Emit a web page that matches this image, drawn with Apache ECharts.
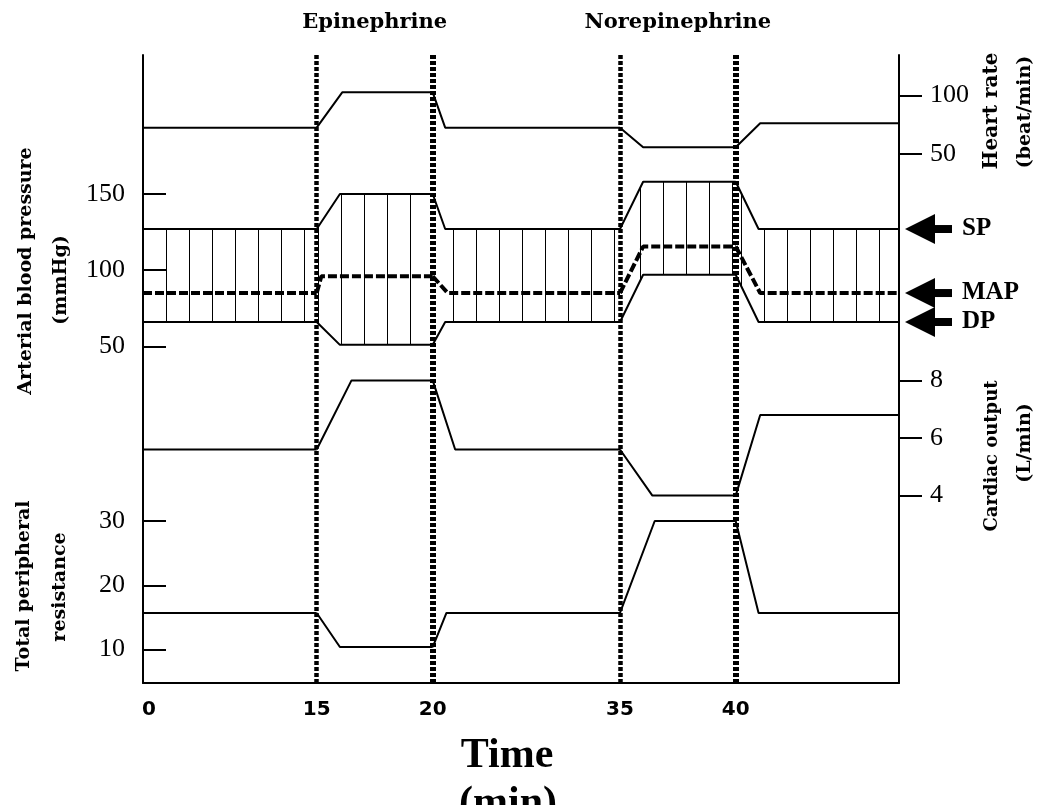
<!DOCTYPE html>
<html><head><meta charset="utf-8">
<script src="https://cdn.jsdelivr.net/npm/echarts@6/dist/echarts.min.js"></script>
<style>html,body{margin:0;padding:0;background:#fff}#c{width:1042px;height:805px}</style>
</head><body><div id="c"></div>
<script>
// ---------------- data ----------------
const knotTimes = [0, 15, 20, 35, 40, 50];            // time (min) breakpoints of the schematic axis
const xTickLabels = [0, 15, 20, 35, 40];
const heartRate     = [[0,72.5],[15,72.5],[16.1,102.7],[20,102.7],[21,72.5],[35,72.5],[36,55.7],[40,55.7],[41.5,76.2],[50,76.2]];
const systolic      = [[0,127],[15,127],[16,150],[20,150],[21,127],[35,127],[36,158],[40,158],[41.4,127],[50,127]];
const diastolic     = [[0,66],[15,66],[16,51],[20,51],[21,66],[35,66],[36,97],[40,97],[41.4,66],[50,66]];
const meanPressure  = [[0,85],[15,85],[15.2,96],[20,96],[21.2,85],[35,85],[36,115.5],[40,115.5],[41.5,85],[50,85]];
const cardiacOutput = [[0,5.6],[15,5.6],[16.5,8],[20,8],[21.8,5.6],[35,5.6],[36.4,4],[40,4],[41.5,6.8],[50,6.8]];
const resistance    = [[0,15.7],[15,15.7],[16,10.4],[20,10.4],[21.1,15.7],[35,15.7],[36.5,30],[40,30],[41.4,15.7],[50,15.7]];
const bpTicks  = [50, 100, 150];
const tprTicks = [10, 20, 30];
const hrTicks  = [50, 100];
const coTicks  = [4, 6, 8];
const drugs = [{name:'Epinephrine', from:15, to:20}, {name:'Norepinephrine', from:35, to:40}];
const pressureLabels = ['SP', 'MAP', 'DP'];

// ---------------- layout ----------------
const GRID = {left:143, right:143, top:55, bottom:122};
const W = 1042, H = 805;
const gx0 = GRID.left, gx1 = W - GRID.right;
const knotPx = [143, 316.7, 432.7, 620, 735.7, 899];   // screen x of each breakpoint
const axisRange = {bp:[-170.9, 241.2], tpr:[4.81, 102.47], hr:[-402.1, 134.6], co:[-2.507, 19.30]};
const dashWidths = [4.5, 6, 4.5, 6];
const hatchOffsets = [5, 19, 16, 19, 5];
const HATCH = 23;

const SERIF = 'Liberation Serif';
const TITLE_FONT = 'DejaVu Serif';

function segData(data, k) {
  const a = knotTimes[k], b = knotTimes[k+1];
  return data.filter(p => p[0] >= a && p[0] <= b);
}

function hatchPattern(off) {
  const cv = document.createElement('canvas');
  cv.width = HATCH; cv.height = 2;
  const ctx = cv.getContext('2d');
  ctx.fillStyle = '#000';
  ctx.fillRect(0, 0, 1, 2);
  return {image: cv, repeat: 'repeat', x: off, y: 0};
}

// x axes: one per segment so that the schematic (non-uniform) time axis is reproduced
const xAxes = [];
for (let k = 0; k < 5; k++) {
  const a = knotTimes[k], b = knotTimes[k+1];
  const s = (knotPx[k+1] - knotPx[k]) / (b - a);
  const min = a - (knotPx[k] - gx0) / s;
  const max = b + (gx1 - knotPx[k+1]) / s;
  xAxes.push({
    type: 'value', gridIndex: 0, position: 'bottom', min, max,
    axisLine: {show: k === 0, onZero: false, lineStyle: {color: '#000', width: 2}},
    axisTick: {show: false}, splitLine: {show: false},
    axisLabel: {
      customValues: [xTickLabels[k]], color: '#000', fontFamily: 'DejaVu Sans', fontSize: 20, fontWeight: 'bold',
      margin: 17, align: k === 0 ? 'left' : 'center', padding: k === 0 ? [0,0,0,-1] : 0
    }
  });
}

function yAxis(pos, range, ticks, showLine, inside, margin) {
  return {
    type: 'value', position: pos, min: range[0], max: range[1], gridIndex: 0,
    axisLine: {show: showLine, onZero: false, lineStyle: {color: '#000', width: 2}},
    axisTick: {show: true, customValues: ticks, inside: inside, length: 23, lineStyle: {color: '#000', width: 2}},
    axisLabel: {customValues: ticks, color: '#000', fontFamily: SERIF, fontSize: 26, margin: margin},
    splitLine: {show: false}
  };
}
const yAxes = [
  yAxis('left',  axisRange.bp,  bpTicks,  true,  true,  18),  // 0: arterial pressure
  yAxis('left',  axisRange.tpr, tprTicks, false, true,  18),  // 1: TPR
  yAxis('right', axisRange.hr,  hrTicks,  true,  false, 31),  // 2: heart rate
  yAxis('right', axisRange.co,  coTicks,  false, false, 31)   // 3: cardiac output
];

const series = [];
// hatched band between SP and DP
for (let k = 0; k < 5; k++) {
  series.push({
    type: 'custom', xAxisIndex: k, yAxisIndex: 0, silent: true, z: 1,
    data: [[knotTimes[k], systolic[0][1]]],
    renderItem: (params, api) => {
      const sp = segData(systolic, k), dp = segData(diastolic, k);
      const pts = sp.map(p => api.coord(p)).concat(dp.slice().reverse().map(p => api.coord(p)));
      return {type: 'polygon', shape: {points: pts}, style: {fill: hatchPattern(hatchOffsets[k]), stroke: null}};
    }
  });
}
function addLine(data, yIdx, lineStyle, withMarks) {
  for (let k = 0; k < 5; k++) {
    const s = {
      type: 'line', xAxisIndex: k, yAxisIndex: yIdx, data: segData(data, k),
      symbol: 'none', silent: true, z: 3, lineStyle: Object.assign({color: '#000', width: 2}, lineStyle)
    };
    if (withMarks && k >= 1) {
      s.markLine = {
        silent: true, symbol: ['none', 'none'], label: {show: false}, z: 6,
        lineStyle: {color: '#000', width: dashWidths[k-1], type: [4, 2]},
        data: [{xAxis: knotTimes[k]}]
      };
    }
    series.push(s);
  }
}
addLine(heartRate, 2, {}, true);
addLine(systolic, 0, {});
addLine(diastolic, 0, {});
addLine(meanPressure, 0, {width: 4, type: [9, 3]});
addLine(cardiacOutput, 3, {});
addLine(resistance, 1, {});

const chart = echarts.init(document.getElementById('c'), null, {renderer: 'canvas'});
chart.setOption({
  animation: false,
  backgroundColor: '#fff',
  grid: Object.assign({containLabel: false}, GRID),
  xAxis: xAxes,
  yAxis: yAxes,
  series: series
});

// ---------------- annotations ----------------
function txt(x, y, text, size, family, weight, rot, align) {
  return {
    type: 'text', x: x, y: y, rotation: rot || 0, silent: true, z: 10,
    style: {text: text, fill: '#000', fontSize: size, fontFamily: family, fontWeight: weight || 'normal',
            align: align || 'center', verticalAlign: 'middle', textAlign: align || 'center', textVerticalAlign: 'middle'}
  };
}
const R = Math.PI / 2;
const g = [
  txt(26, 271, 'Arterial blood pressure', 19, TITLE_FONT, 'bold', R),
  txt(61, 280, '(mmHg)', 19, TITLE_FONT, 'bold', R),
  txt(24, 586, 'Total peripheral', 19, TITLE_FONT, 'bold', R),
  txt(60, 587, 'resistance', 19, TITLE_FONT, 'bold', R),
  txt(992, 111, 'Heart rate', 20, TITLE_FONT, 'bold', R),
  txt(1025, 112, '(beat/min)', 19, TITLE_FONT, 'bold', R),
  txt(992, 456, 'Cardiac output', 18, TITLE_FONT, 'bold', R),
  txt(1025, 443, '(L/min)', 19, TITLE_FONT, 'bold', R),
  txt(507, 756, 'Time', 42, SERIF, 'bold'),
  txt(508, 804, '(min)', 42, SERIF, 'bold')
];
drugs.forEach(d => {
  const i = knotTimes.indexOf(d.from);
  const xa = chart.convertToPixel({xAxisIndex: i}, d.from);
  const xb = chart.convertToPixel({xAxisIndex: i}, d.to);
  g.push(txt((xa + xb) / 2, 23, d.name, 21, TITLE_FONT, 'bold'));
});
const lastVals = [systolic, meanPressure, diastolic].map(a => a[a.length - 1][1]);
lastVals.forEach((v, i) => {
  const y = chart.convertToPixel({yAxisIndex: 0}, v);
  g.push({type: 'polygon', silent: true, z: 10, shape: {points: [[gx1 + 6, y], [gx1 + 36, y - 15], [gx1 + 36, y + 15]]}, style: {fill: '#000'}});
  g.push({type: 'rect', silent: true, z: 10, shape: {x: gx1 + 35, y: y - 4, width: 18, height: 8}, style: {fill: '#000'}});
  g.push(txt(gx1 + 63, y, pressureLabels[i], 25, SERIF, 'bold', 0, 'left'));
});
chart.setOption({graphic: {elements: g}});
</script>
</body></html>
